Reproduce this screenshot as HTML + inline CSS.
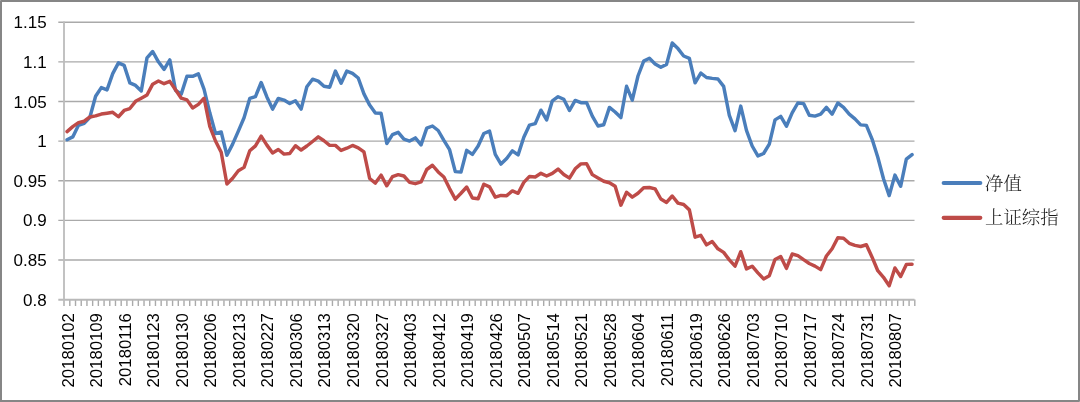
<!DOCTYPE html>
<html><head><meta charset="utf-8"><title>净值 vs 上证综指</title>
<style>
html,body{margin:0;padding:0;background:#fff;}
body{width:1080px;height:402px;overflow:hidden;}
svg{display:block;will-change:transform;}
.yl{font-family:"Liberation Sans",Arial,sans-serif;font-size:17.0px;fill:#000;}
.xl{font-family:"Liberation Sans",Arial,sans-serif;font-size:16.7px;fill:#000;}
.lg{font-family:"Liberation Serif", "Noto Serif CJK SC", serif;font-size:18.4px;font-weight:300;fill:#1a1a1a;}
</style></head><body>
<svg width="1080" height="402" viewBox="0 0 1080 402">
<rect x="0" y="0" width="1080" height="402" fill="#fff"/>

<path d="M58.3 22.21H914.5 M58.3 61.84H914.5 M58.3 101.47H914.5 M58.3 141.1H914.5 M58.3 180.73H914.5 M58.3 220.36H914.5 M58.3 259.99H914.5" stroke="#aaaaaa" stroke-width="1.4" fill="none"/>
<path d="M69.81 299.62V306 M75.52 299.62V306 M81.23 299.62V306 M86.94 299.62V306 M92.65 299.62V306 M98.36 299.62V306 M104.07 299.62V306 M109.78 299.62V306 M115.48 299.62V306 M121.19 299.62V306 M126.9 299.62V306 M132.61 299.62V306 M138.32 299.62V306 M144.03 299.62V306 M149.74 299.62V306 M155.45 299.62V306 M161.16 299.62V306 M166.87 299.62V306 M172.58 299.62V306 M178.29 299.62V306 M184 299.62V306 M189.71 299.62V306 M195.42 299.62V306 M201.13 299.62V306 M206.83 299.62V306 M212.54 299.62V306 M218.25 299.62V306 M223.96 299.62V306 M229.67 299.62V306 M235.38 299.62V306 M241.09 299.62V306 M246.8 299.62V306 M252.51 299.62V306 M258.22 299.62V306 M263.93 299.62V306 M269.64 299.62V306 M275.35 299.62V306 M281.06 299.62V306 M286.77 299.62V306 M292.48 299.62V306 M298.19 299.62V306 M303.89 299.62V306 M309.6 299.62V306 M315.31 299.62V306 M321.02 299.62V306 M326.73 299.62V306 M332.44 299.62V306 M338.15 299.62V306 M343.86 299.62V306 M349.57 299.62V306 M355.28 299.62V306 M360.99 299.62V306 M366.7 299.62V306 M372.41 299.62V306 M378.12 299.62V306 M383.83 299.62V306 M389.54 299.62V306 M395.24 299.62V306 M400.95 299.62V306 M406.66 299.62V306 M412.37 299.62V306 M418.08 299.62V306 M423.79 299.62V306 M429.5 299.62V306 M435.21 299.62V306 M440.92 299.62V306 M446.63 299.62V306 M452.34 299.62V306 M458.05 299.62V306 M463.76 299.62V306 M469.47 299.62V306 M475.18 299.62V306 M480.89 299.62V306 M486.6 299.62V306 M492.3 299.62V306 M498.01 299.62V306 M503.72 299.62V306 M509.43 299.62V306 M515.14 299.62V306 M520.85 299.62V306 M526.56 299.62V306 M532.27 299.62V306 M537.98 299.62V306 M543.69 299.62V306 M549.4 299.62V306 M555.11 299.62V306 M560.82 299.62V306 M566.53 299.62V306 M572.24 299.62V306 M577.95 299.62V306 M583.66 299.62V306 M589.36 299.62V306 M595.07 299.62V306 M600.78 299.62V306 M606.49 299.62V306 M612.2 299.62V306 M617.91 299.62V306 M623.62 299.62V306 M629.33 299.62V306 M635.04 299.62V306 M640.75 299.62V306 M646.46 299.62V306 M652.17 299.62V306 M657.88 299.62V306 M663.59 299.62V306 M669.3 299.62V306 M675.01 299.62V306 M680.71 299.62V306 M686.42 299.62V306 M692.13 299.62V306 M697.84 299.62V306 M703.55 299.62V306 M709.26 299.62V306 M714.97 299.62V306 M720.68 299.62V306 M726.39 299.62V306 M732.1 299.62V306 M737.81 299.62V306 M743.52 299.62V306 M749.23 299.62V306 M754.94 299.62V306 M760.65 299.62V306 M766.36 299.62V306 M772.07 299.62V306 M777.77 299.62V306 M783.48 299.62V306 M789.19 299.62V306 M794.9 299.62V306 M800.61 299.62V306 M806.32 299.62V306 M812.03 299.62V306 M817.74 299.62V306 M823.45 299.62V306 M829.16 299.62V306 M834.87 299.62V306 M840.58 299.62V306 M846.29 299.62V306 M852 299.62V306 M857.71 299.62V306 M863.42 299.62V306 M869.12 299.62V306 M874.83 299.62V306 M880.54 299.62V306 M886.25 299.62V306 M891.96 299.62V306 M897.67 299.62V306 M903.38 299.62V306 M909.09 299.62V306 M914.8 299.62V306" stroke="#aaaaaa" stroke-width="1.4" fill="none"/>
<path d="M58.3 299.8H914.5" stroke="#b9b9b9" stroke-width="2" fill="none"/>
<path d="M64 21.51V306" stroke="#bcbcbc" stroke-width="1.8" fill="none"/>
<text class="yl" x="46.6" y="28.3" text-anchor="end">1.15</text>
<text class="yl" x="46.6" y="67.93" text-anchor="end">1.1</text>
<text class="yl" x="46.6" y="107.56" text-anchor="end">1.05</text>
<text class="yl" x="46.6" y="147.19" text-anchor="end">1</text>
<text class="yl" x="46.6" y="186.82" text-anchor="end">0.95</text>
<text class="yl" x="46.6" y="226.45" text-anchor="end">0.9</text>
<text class="yl" x="46.6" y="266.08" text-anchor="end">0.85</text>
<text class="yl" x="46.6" y="305.71" text-anchor="end">0.8</text>
<text class="xl" transform="translate(73.55 313.2) rotate(-90)" text-anchor="end">20180102</text>
<text class="xl" transform="translate(102.1 313.2) rotate(-90)" text-anchor="end">20180109</text>
<text class="xl" transform="translate(130.65 313.2) rotate(-90)" text-anchor="end">20180116</text>
<text class="xl" transform="translate(159.2 313.2) rotate(-90)" text-anchor="end">20180123</text>
<text class="xl" transform="translate(187.74 313.2) rotate(-90)" text-anchor="end">20180130</text>
<text class="xl" transform="translate(216.29 313.2) rotate(-90)" text-anchor="end">20180206</text>
<text class="xl" transform="translate(244.84 313.2) rotate(-90)" text-anchor="end">20180213</text>
<text class="xl" transform="translate(273.38 313.2) rotate(-90)" text-anchor="end">20180227</text>
<text class="xl" transform="translate(301.93 313.2) rotate(-90)" text-anchor="end">20180306</text>
<text class="xl" transform="translate(330.48 313.2) rotate(-90)" text-anchor="end">20180313</text>
<text class="xl" transform="translate(359.02 313.2) rotate(-90)" text-anchor="end">20180320</text>
<text class="xl" transform="translate(387.57 313.2) rotate(-90)" text-anchor="end">20180327</text>
<text class="xl" transform="translate(416.12 313.2) rotate(-90)" text-anchor="end">20180403</text>
<text class="xl" transform="translate(444.67 313.2) rotate(-90)" text-anchor="end">20180412</text>
<text class="xl" transform="translate(473.21 313.2) rotate(-90)" text-anchor="end">20180419</text>
<text class="xl" transform="translate(501.76 313.2) rotate(-90)" text-anchor="end">20180426</text>
<text class="xl" transform="translate(530.31 313.2) rotate(-90)" text-anchor="end">20180507</text>
<text class="xl" transform="translate(558.85 313.2) rotate(-90)" text-anchor="end">20180514</text>
<text class="xl" transform="translate(587.4 313.2) rotate(-90)" text-anchor="end">20180521</text>
<text class="xl" transform="translate(615.95 313.2) rotate(-90)" text-anchor="end">20180528</text>
<text class="xl" transform="translate(644.49 313.2) rotate(-90)" text-anchor="end">20180604</text>
<text class="xl" transform="translate(673.04 313.2) rotate(-90)" text-anchor="end">20180611</text>
<text class="xl" transform="translate(701.59 313.2) rotate(-90)" text-anchor="end">20180619</text>
<text class="xl" transform="translate(730.14 313.2) rotate(-90)" text-anchor="end">20180626</text>
<text class="xl" transform="translate(758.68 313.2) rotate(-90)" text-anchor="end">20180703</text>
<text class="xl" transform="translate(787.23 313.2) rotate(-90)" text-anchor="end">20180710</text>
<text class="xl" transform="translate(815.78 313.2) rotate(-90)" text-anchor="end">20180717</text>
<text class="xl" transform="translate(844.32 313.2) rotate(-90)" text-anchor="end">20180724</text>
<text class="xl" transform="translate(872.87 313.2) rotate(-90)" text-anchor="end">20180731</text>
<text class="xl" transform="translate(901.42 313.2) rotate(-90)" text-anchor="end">20180807</text>
<polyline points="67.05,139.7 72.76,136.9 78.47,125.3 84.18,123.4 89.89,117.3 95.6,96.3 101.31,87.6 107.02,89.9 112.73,73.6 118.44,62.9 124.15,65.4 129.86,82.9 135.57,85.4 141.28,91 146.99,57.9 152.7,51.5 158.41,61.8 164.11,69.4 169.82,59.9 175.53,90.3 181.24,94.1 186.95,76.3 192.66,76.3 198.37,73.9 204.08,89.4 209.79,112.8 215.5,133.5 221.21,132 226.92,155.3 232.63,144.1 238.34,131.1 244.05,117.8 249.76,98.4 255.46,96.6 261.17,82.5 266.88,96.9 272.59,109.1 278.3,98.4 284.01,100.1 289.72,103.5 295.43,100.7 301.14,109.1 306.85,86.7 312.56,79.2 318.27,81.1 323.98,86.3 329.69,87.2 335.4,71.1 341.11,83.3 346.82,71.1 352.52,73.4 358.23,78 363.94,93.9 369.65,105.1 375.36,113 381.07,113.3 386.78,143.5 392.49,134.6 398.2,132.3 403.91,139.2 409.62,141.1 415.33,137.9 421.04,144.9 426.75,128.1 432.46,126 438.17,130.5 443.87,140.4 449.58,149.7 455.29,171.6 461,172.1 466.71,150.3 472.42,154.4 478.13,146 483.84,133.5 489.55,131.1 495.26,154.4 500.97,164.1 506.68,158.5 512.39,150.8 518.1,154.9 523.81,137.2 529.52,125.1 535.23,123.6 540.93,110.2 546.64,119.9 552.35,100.8 558.06,96.7 563.77,99.3 569.48,110.5 575.19,100.4 580.9,102.7 586.61,102.7 592.32,116.2 598.03,126 603.74,124.7 609.45,107.4 615.16,112 620.87,117.6 626.58,86.3 632.28,100.1 637.99,76 643.7,61.1 649.41,58.3 655.12,63.9 660.83,67.2 666.54,64.4 672.25,43 677.96,48.6 683.67,56 689.38,58.3 695.09,82.8 700.8,73.1 706.51,77.5 712.22,78.4 717.93,79 723.64,86.4 729.34,115.3 735.05,130.7 740.76,106.1 746.47,130.3 752.18,146 757.89,155.9 763.6,153.5 769.31,144.1 775.02,119.9 780.73,116.4 786.44,126.2 792.15,112.9 797.86,103 803.57,103.6 809.28,115.2 814.99,116.1 820.69,114.2 826.4,107.3 832.11,114.2 837.82,103 843.53,107.3 849.24,114.2 854.95,118.9 860.66,124.9 866.37,125.4 872.08,139.1 877.79,157.3 883.5,178.8 889.21,195.6 894.92,175.1 900.63,186.3 906.34,159.2 912.05,154.6" fill="none" stroke="#4A7EBB" stroke-width="3.45" stroke-linejoin="round" stroke-linecap="round"/>
<polyline points="67.05,131.64 72.76,126.66 78.47,122.68 84.18,121.23 89.89,116.98 95.6,115.92 101.31,114.02 107.02,113.18 112.73,112.32 118.44,116.74 124.15,110.48 129.86,108.55 135.57,101.34 141.28,98.2 146.99,94.96 152.7,84.14 158.41,81.03 164.11,83.71 169.82,81.35 175.53,89.77 181.24,98.16 186.95,99.88 192.66,107.99 198.37,104.37 204.08,98.28 209.79,126.29 215.5,141 221.21,152.31 226.92,184 232.63,178.18 238.34,170.79 244.05,167.39 249.76,150.75 255.46,145.85 261.17,136.13 266.88,145.12 272.59,152.95 278.3,149.51 284.01,154.12 289.72,153.54 295.43,145.7 301.14,150.01 306.85,146 312.56,141.5 318.27,136.82 323.98,140.76 329.69,145.28 335.4,145.35 341.11,150.44 346.82,148.19 352.52,145.46 358.23,147.78 363.94,151.97 369.65,178.51 375.36,183.07 381.07,175.18 386.78,185.81 392.49,176.64 398.2,174.64 403.91,176.01 409.62,182.37 415.33,183.69 421.04,181.97 426.75,169.5 432.46,165.25 438.17,171.94 443.87,177 449.58,188.6 455.29,199.11 461,193.21 466.71,186.99 472.42,197.97 478.13,198.82 483.84,184.22 489.55,186.84 495.26,197.13 500.97,195.41 506.68,195.66 512.39,190.94 518.1,193.3 523.81,182.37 529.52,176.41 535.23,176.97 540.93,173.32 546.64,175.99 552.35,173.41 558.06,169.07 563.77,174.48 569.48,178.14 575.19,168.79 580.9,163.87 586.61,163.75 592.32,174.62 598.03,178.05 603.74,181.25 609.45,182.74 615.16,186.25 620.87,205.19 626.58,192.24 632.28,197.11 637.99,193.26 643.7,187.75 649.41,187.51 655.12,188.87 660.83,199.02 666.54,202.47 672.25,195.99 677.96,203.18 683.67,204.53 689.38,209.87 695.09,237.21 700.8,235.31 706.51,244.88 712.22,241.54 717.93,248.83 723.64,252.38 729.34,259.89 735.05,266.19 740.76,251.68 746.47,268.91 752.18,266.19 757.89,272.84 763.6,278.9 769.31,275.7 775.02,259.43 780.73,256.43 786.44,268.38 792.15,254.02 797.86,255.58 803.57,259.68 809.28,263.5 814.99,266.1 820.69,269.63 826.4,256.03 832.11,248.78 837.82,237.75 843.53,238.21 849.24,243.34 854.95,245.41 860.66,246.5 866.37,244.74 872.08,257.17 877.79,270.71 883.5,277.32 889.21,285.78 894.92,267.99 900.63,276.45 906.34,264.4 912.05,264.17" fill="none" stroke="#BE4B48" stroke-width="3.45" stroke-linejoin="round" stroke-linecap="round"/>
<path d="M943.7 183.0H980.3" stroke="#4A7EBB" stroke-width="4.15" stroke-linecap="round"/>
<path d="M943.7 217.8H980.3" stroke="#BE4B48" stroke-width="4.15" stroke-linecap="round"/>
<text class="lg" x="985.0" y="189.5">净值</text>
<text class="lg" x="985.0" y="224.0">上证综指</text>
<rect x="1" y="1" width="1078" height="400" fill="none" stroke="#868686" stroke-width="2"/>
<rect x="0" y="0" width="1" height="1" fill="#a4a4a4"/><rect x="1079" y="401" width="1" height="1" fill="#a4a4a4"/>
</svg>
</body></html>
